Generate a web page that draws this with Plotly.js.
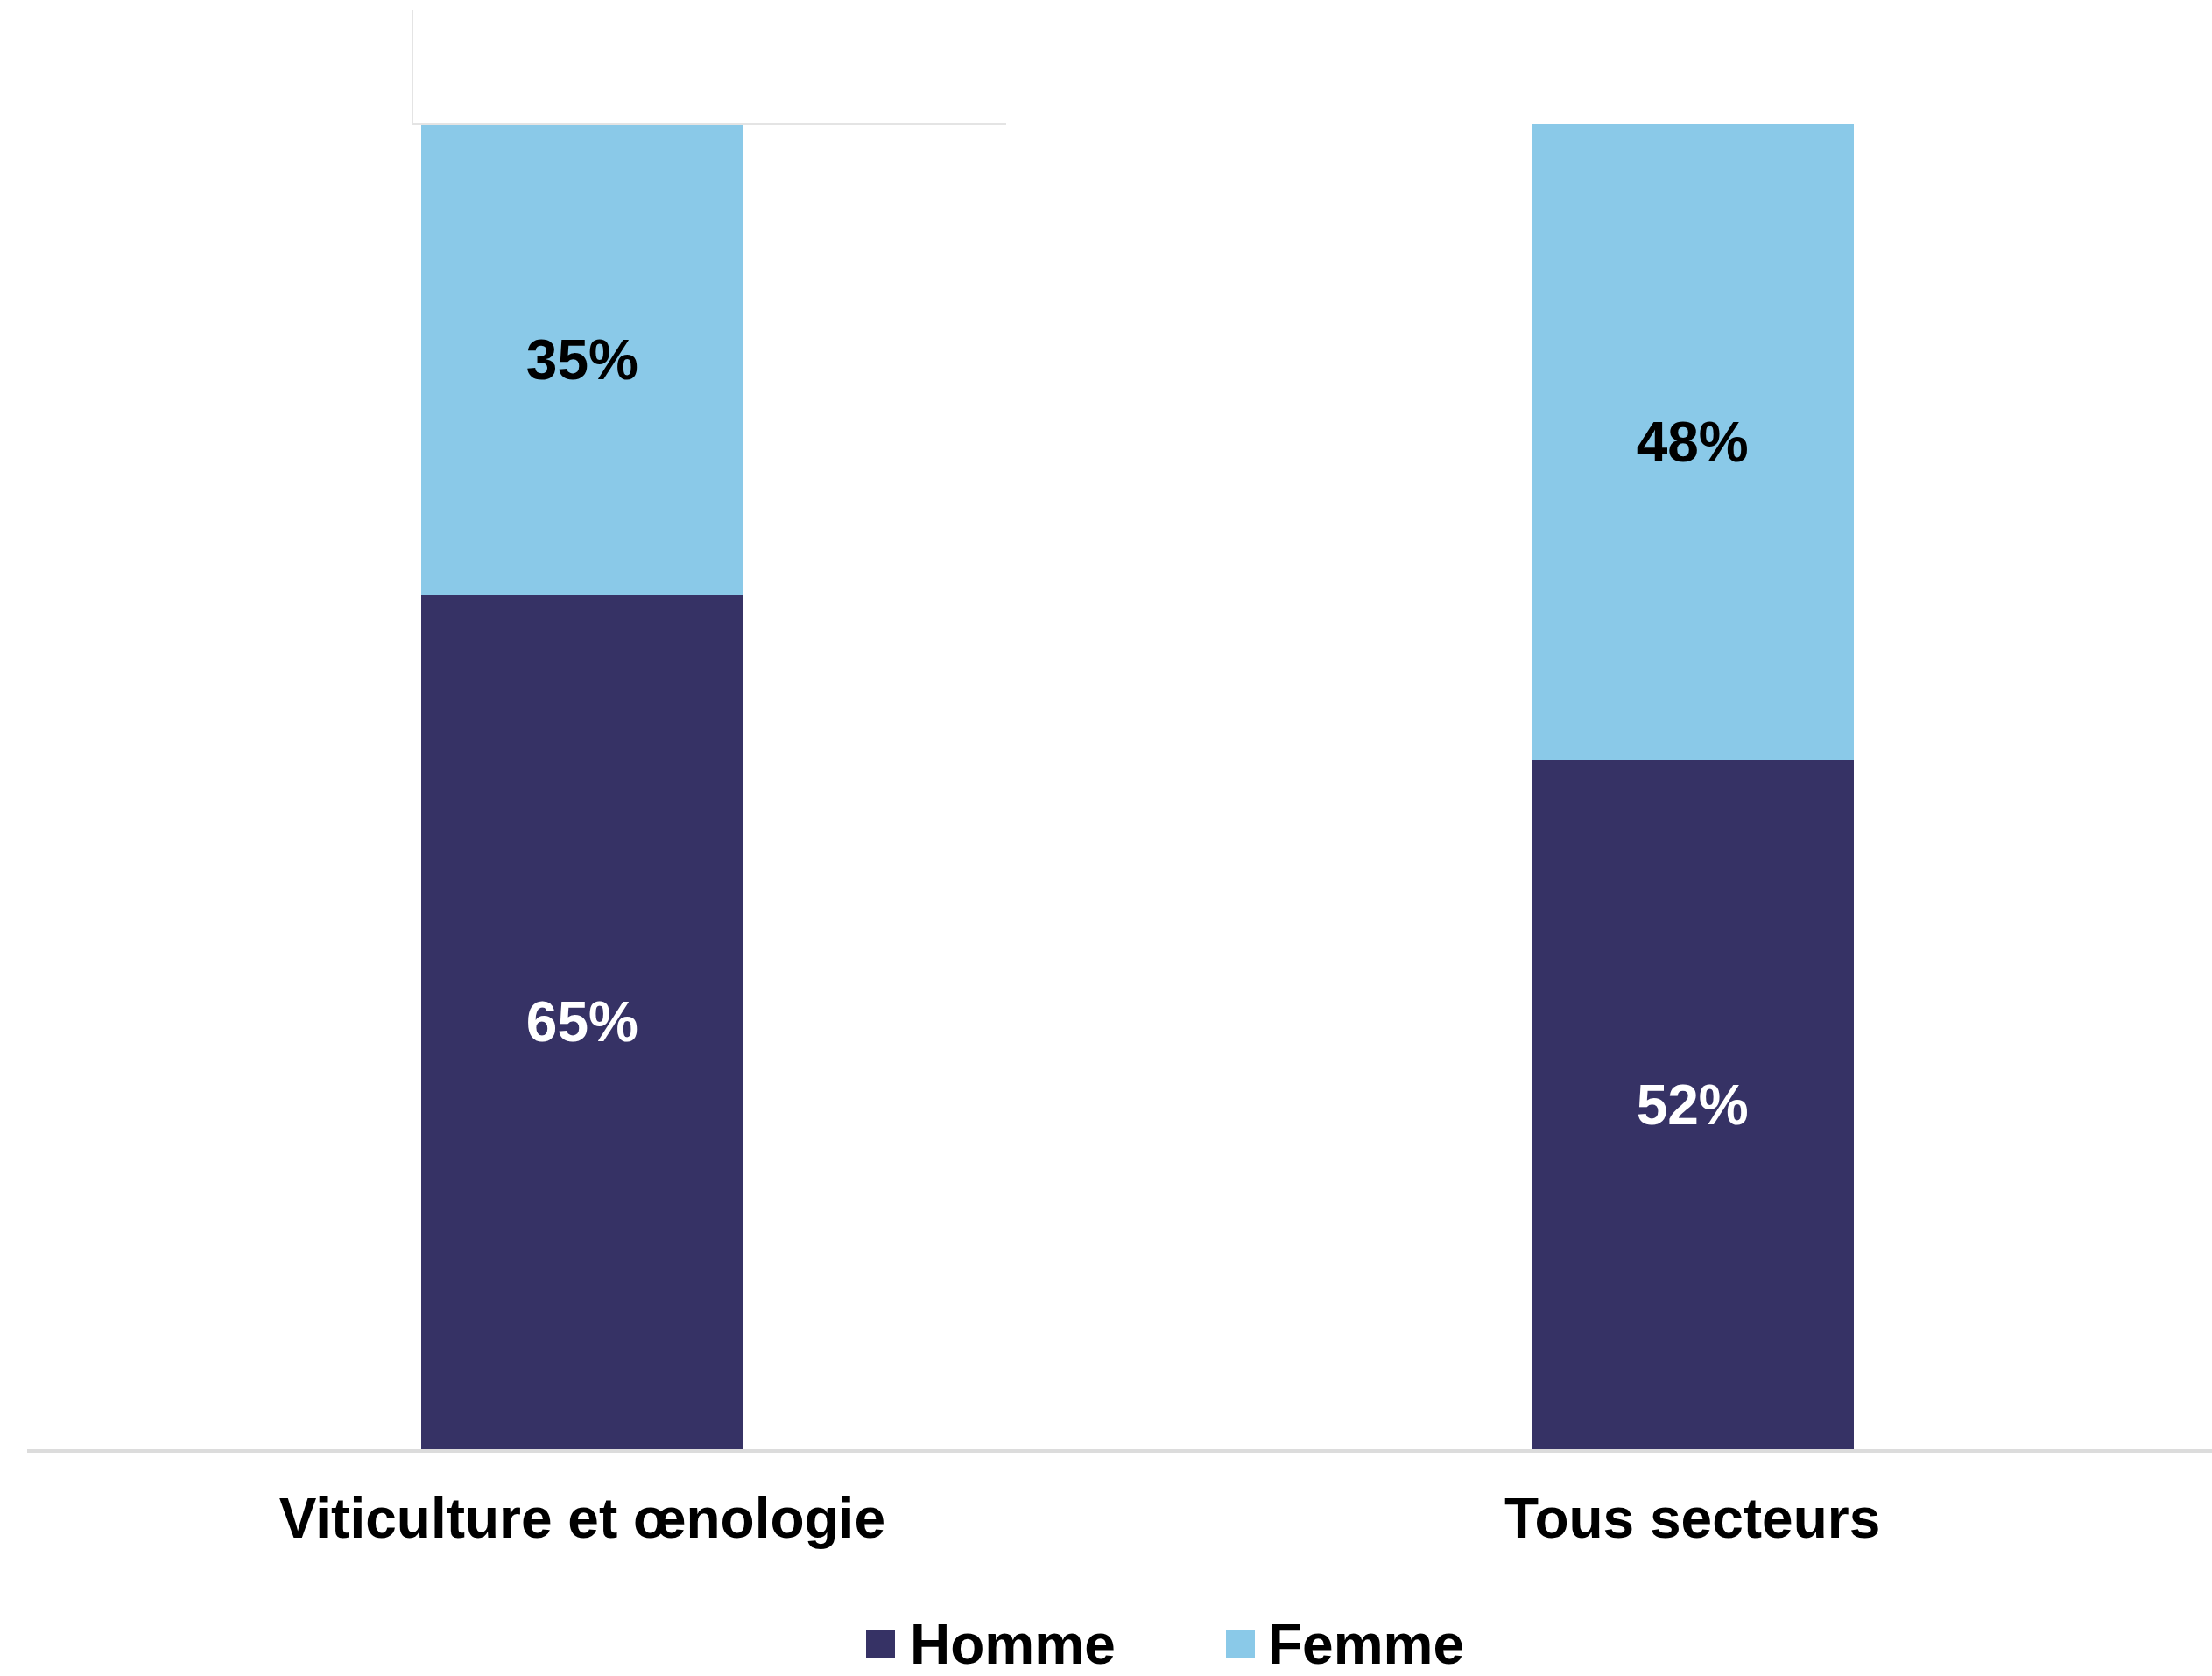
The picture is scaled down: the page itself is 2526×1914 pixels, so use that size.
<!DOCTYPE html>
<html>
<head>
<meta charset="utf-8">
<script src="https://cdn.plot.ly/plotly-3.0.1.min.js"></script>
<style>html,body{margin:0;padding:0;background:#fff;}#chart{width:2526px;height:1914px;}</style>
</head>
<body>
<div id="chart"></div>
<script>
const categories = ["Viticulture et œnologie", "Tous secteurs"];
const seriesNames = ["Homme", "Femme"];
const hommeValues = [64.5, 52];
const femmeValues = [35.5, 48];
const hommeLabels = ["65%", "52%"];
const femmeLabels = ["35%", "48%"];

const colors = {Homme: "#363265", Femme: "#8AC9E8"};
const textColors = {Homme: "#ffffff", Femme: "#000000"};
const FONT = "Liberation Sans, Arial, sans-serif";
const valuesByName = {Homme: hommeValues, Femme: femmeValues};
const labelsByName = {Homme: hommeLabels, Femme: femmeLabels};

const traces = seriesNames.map(name => ({
  type: "bar",
  name: name,
  x: categories,
  y: valuesByName[name],
  width: 0.29,
  marker: {color: colors[name], line: {width: 0}},
  text: labelsByName[name],
  textposition: "inside",
  insidetextanchor: "middle",
  textangle: 0,
  constraintext: "none",
  textfont: {family: FONT, size: 64, color: textColors[name], weight: "bold"},
  hoverinfo: "skip",
  showlegend: false
}));

// custom legend (big square swatches like the original)
const legendItems = [
  {name: seriesNames[0], sx0: 989, sx1: 1022, tx: 1037},
  {name: seriesNames[1], sx0: 1400, sx1: 1433, tx: 1446}
];
const W = 2526, H = 1914, ML = 31, MR = 0, MT = 142, MB = 259;
const PW = W - ML - MR, PH = H - MT - MB;
const px2x = p => (p - ML) / PW;
const py2y = p => (H - MB - p) / PH;
const LEG_CY = 1878;

const shapes = [];
const annotations = [];
legendItems.forEach(it => {
  shapes.push({type: "rect", xref: "paper", yref: "paper",
    x0: px2x(it.sx0), x1: px2x(it.sx1), y0: py2y(LEG_CY + 16), y1: py2y(LEG_CY - 17),
    fillcolor: colors[it.name], line: {width: 0}});
  annotations.push({xref: "paper", yref: "paper", x: px2x(it.tx), y: py2y(LEG_CY),
    xanchor: "left", yanchor: "middle", showarrow: false, text: it.name,
    height: 60, valign: "middle",
    font: {family: FONT, size: 64, color: "#000000", weight: "bold"}});
});
// faint frame remnant at top left of the original
shapes.push({type: "line", xref: "paper", yref: "paper",
  x0: px2x(471), x1: px2x(471), y0: py2y(11), y1: py2y(142),
  line: {color: "#e4e4e4", width: 2}});
shapes.push({type: "line", xref: "paper", yref: "paper",
  x0: px2x(471), x1: px2x(1149), y0: py2y(142), y1: py2y(142),
  line: {color: "#e4e4e4", width: 2}});

const layout = {
  width: W, height: H,
  margin: {l: ML, r: MR, t: MT, b: MB, pad: 0},
  paper_bgcolor: "#ffffff", plot_bgcolor: "#ffffff",
  barmode: "stack",
  showlegend: false,
  xaxis: {
    type: "category",
    range: [-0.5, 1.468],
    showline: true, linecolor: "#dcdcdc", linewidth: 4,
    ticks: "", showgrid: false, zeroline: false,
    tickfont: {family: FONT, size: 64, color: "#000000", weight: "bold"},
    ticklabelstandoff: 20
  },
  yaxis: {
    range: [0, 100], visible: false, showgrid: false, zeroline: false
  },
  shapes: shapes,
  annotations: annotations
};

Plotly.newPlot("chart", traces, layout, {displayModeBar: false, staticPlot: true});
</script>
</body>
</html>
